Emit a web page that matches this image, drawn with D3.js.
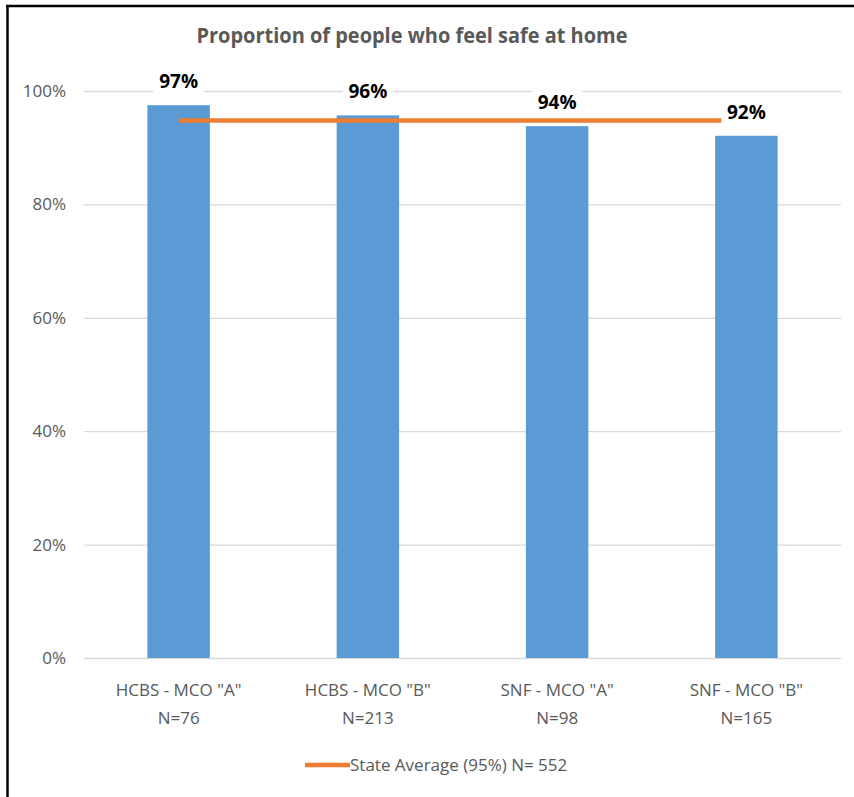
<!DOCTYPE html>
<html><head><meta charset="utf-8">
<script src="https://cdn.jsdelivr.net/npm/d3@7"></script>
<style>
html,body{margin:0;padding:0;background:#fff;}
svg{display:block;}
text{font-family:"Open Sans","DejaVu Sans",sans-serif;}
</style></head>
<body>
<svg id="chart" width="854" height="797"></svg>
<script>
const categories = ['HCBS - MCO "A"', 'HCBS - MCO "B"', 'SNF - MCO "A"', 'SNF - MCO "B"'];
const sampleSizes = ["N=76", "N=213", "N=98", "N=165"];
const values = [97.5, 95.7, 93.8, 92.1];
const valueLabels = ["97%", "96%", "94%", "92%"];
const stateAverage = 94.8;
const legendLabel = "State Average (95%) N= 552";
const yTicks = [0, 20, 40, 60, 80, 100];
const title = "Proportion of people who feel safe at home";

const svg = d3.select("#chart");
const W = 854, H = 797;
const m = {left: 84, right: 13, top: 91, bottom: 139};

// frame
svg.append("rect").attr("x", 0).attr("y", 0).attr("width", W).attr("height", H).attr("fill", "#fff");
svg.append("line").attr("x1", 7.5).attr("x2", 7.5).attr("y1", 5).attr("y2", H).attr("stroke", "#000").attr("stroke-width", 2.5);
svg.append("line").attr("x1", 6).attr("x2", W).attr("y1", 6).attr("y2", 6).attr("stroke", "#000").attr("stroke-width", 2.5);

const x = d3.scaleBand().domain(categories).range([m.left, W - m.right]).paddingInner(0.67).paddingOuter(0.335);
const y = d3.scaleLinear().domain([0, 100]).range([H - m.bottom, m.top]);

// title
svg.append("text").attr("x", 412).attr("y", 43).attr("text-anchor", "middle")
  .attr("font-size", 22).attr("font-weight", "bold").attr("fill", "#595959")
  .attr("textLength", 431).attr("lengthAdjust", "spacingAndGlyphs").text(title);

// gridlines
const yAxis = d3.axisLeft(y).tickValues(yTicks).tickFormat(d => d + "%").tickSize(-(W - m.right - m.left)).tickPadding(18);
const gy = svg.append("g").attr("transform", `translate(${m.left},0)`).call(yAxis);
gy.select(".domain").remove();
gy.selectAll(".tick line").attr("stroke", "#d9d9d9").attr("stroke-width", 1.3);
gy.selectAll(".tick text").attr("fill", "#595959").attr("font-size", 17);

// bars
svg.append("g").selectAll("rect").data(values).join("rect")
  .attr("x", (d, i) => x(categories[i]))
  .attr("width", x.bandwidth())
  .attr("y", d => y(d))
  .attr("height", d => y(0) - y(d))
  .attr("fill", "#5b9bd5");

// state average line
const cx = c => x(c) + x.bandwidth() / 2;
svg.append("line")
  .attr("x1", cx(categories[0])).attr("x2", cx(categories[categories.length - 1]))
  .attr("y1", y(stateAverage)).attr("y2", y(stateAverage))
  .attr("stroke", "#ed7d31").attr("stroke-width", 4.5);

// value labels with white background
const lbl = svg.append("g").selectAll("g").data(values).join("g")
  .attr("transform", (d, i) => `translate(${cx(categories[i])},${y(d) - 17})`);
lbl.append("rect").attr("x", -25).attr("y", -19).attr("width", 50).attr("height", 26).attr("fill", "#fff");
lbl.append("text").attr("text-anchor", "middle").attr("font-size", 19).attr("font-weight", "bold")
  .attr("fill", "#000").text((d, i) => valueLabels[i]);

// x labels
const xl = svg.append("g").selectAll("text").data(categories).join("text")
  .attr("x", d => cx(d)).attr("y", 696).attr("text-anchor", "middle")
  .attr("font-size", 17).attr("fill", "#595959");
xl.append("tspan").attr("x", d => cx(d)).text(d => d);
xl.append("tspan").attr("x", d => cx(d)).attr("dy", 28).text((d, i) => sampleSizes[i]);

// legend
svg.append("line").attr("x1", 305).attr("x2", 350).attr("y1", 765).attr("y2", 765)
  .attr("stroke", "#ed7d31").attr("stroke-width", 4.5);
svg.append("text").attr("x", 350).attr("y", 771).attr("font-size", 17).attr("fill", "#595959").text(legendLabel);
</script>
</body></html>
